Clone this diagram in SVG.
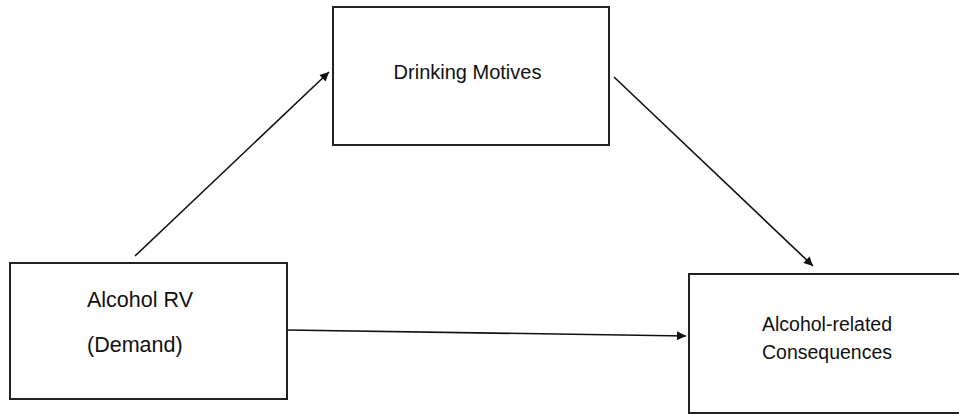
<svg xmlns="http://www.w3.org/2000/svg" width="959" height="414" viewBox="0 0 959 414">
<style>
.box{fill:#fff;stroke:#222;stroke-width:2}
.lbl{font-family:"Liberation Sans",Arial,sans-serif;fill:#111}
.edge{stroke:#111;stroke-width:1.6;fill:none;marker-end:url(#ah)}
</style>
<defs>
<marker id="ah" viewBox="0 0 10 10" refX="10" refY="5" markerWidth="12" markerHeight="9" markerUnits="userSpaceOnUse" orient="auto">
<path d="M0,0 L10,5 L0,10 z" fill="#111"/>
</marker>
</defs>
<rect width="959" height="414" fill="#fff"/>
<g id="connectors">
<line class="edge" x1="135" y1="256" x2="329" y2="72"/>
<line class="edge" x1="614" y1="77" x2="813" y2="266"/>
<line class="edge" x1="287" y1="330" x2="686" y2="336"/>
</g>
<g id="node-demand">
<rect class="box" x="10" y="263" width="277" height="136"/>
<text class="lbl" x="87" y="307" font-size="21.5">Alcohol RV</text>
<text class="lbl" x="87" y="352" font-size="21.5">(Demand)</text>
</g>
<g id="node-motives">
<rect class="box" x="333" y="7" width="276" height="138"/>
<text class="lbl" x="467.5" y="79" font-size="20" text-anchor="middle">Drinking Motives</text>
</g>
<g id="node-consequences">
<rect class="box" x="689" y="274" width="275" height="139"/>
<text class="lbl" x="827" y="331" font-size="19.5" text-anchor="middle">Alcohol-related</text>
<text class="lbl" x="827" y="359" font-size="19.5" text-anchor="middle">Consequences</text>
</g>
</svg>
